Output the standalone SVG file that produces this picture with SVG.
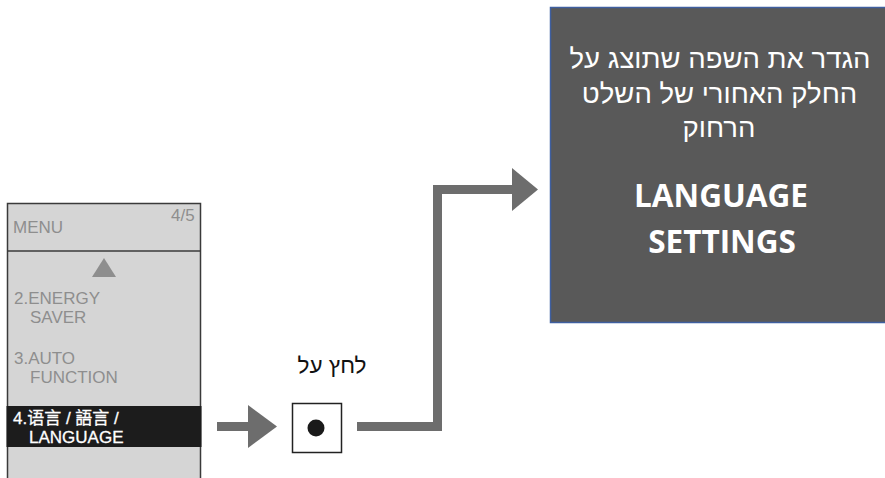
<svg xmlns="http://www.w3.org/2000/svg" width="885" height="478" viewBox="0 0 885 478">
<style>
.menu{font-family:"Liberation Sans","Noto Sans CJK SC",sans-serif;font-size:17px;fill:#8e8e8e}
.hi{fill:#ffffff;stroke:#ffffff;stroke-width:0.3}
.conn{fill:#6d6d6d}
.heb{font-family:"Liberation Sans","DejaVu Sans",sans-serif;font-size:27.5px;fill:#ffffff;text-anchor:middle}
.big{font-family:"Open Sans","Liberation Sans",sans-serif;font-weight:bold;font-size:31.5px;fill:#ffffff;text-anchor:middle}
.lbl{font-family:"Liberation Sans","DejaVu Sans",sans-serif;font-size:22.5px;fill:#111;text-anchor:middle}
</style>
<rect width="885" height="478" fill="#ffffff"/>
<g id="menu-panel">
<rect x="7.5" y="203.5" width="193" height="290" fill="#d5d5d5" stroke="#3a3a3a" stroke-width="1.5"/>
<line x1="7.5" y1="251" x2="200.5" y2="251" stroke="#3a3a3a" stroke-width="1.5"/>
<text class="menu" x="13" y="233">MENU</text>
<text class="menu" x="171" y="221">4/5</text>
<polygon points="104,258 116,277 92,277" fill="#8e8e8e"/>
<text class="menu" x="14" y="304">2.ENERGY</text>
<text class="menu" x="30" y="323">SAVER</text>
<text class="menu" x="14" y="364">3.AUTO</text>
<text class="menu" x="30" y="383">FUNCTION</text>
<rect x="6.5" y="406" width="195" height="41" fill="#1c1c1c"/>
<text class="menu hi" x="13" y="424">4.语言 / 語言 /</text>
<text class="menu hi" x="29" y="443">LANGUAGE</text>
</g>
<g id="button">
<rect x="292.5" y="403.5" width="49" height="49" fill="#ffffff" stroke="#222" stroke-width="1.5"/>
<circle cx="316" cy="428" r="8.5" fill="#1a1a1a"/>
<text class="lbl" x="332" y="373">לחץ על</text>
</g>
<g id="settings-box">
<rect x="550.5" y="7.5" width="340" height="315" fill="#595959" stroke="#3f5fa0" stroke-width="1.5"/>
<text class="heb" x="720" y="68">הגדר את השפה שתוצג על</text>
<text class="heb" x="719.5" y="103">החלק האחורי של השלט</text>
<text class="heb" x="719" y="137">הרחוק</text>
<text class="big" x="721" y="207">LANGUAGE</text>
<text class="big" x="722" y="253">SETTINGS</text>
</g>
<g id="connectors">
<rect class="conn" x="217" y="422" width="32" height="9"/>
<polygon class="conn" points="248,405 277,426.5 248,448"/>
<polygon class="conn" points="357,422 433,422 433,185 513,185 513,194 442,194 442,431 357,431"/>
<polygon class="conn" points="512,168 538,189.5 512,211"/>
</g>
</svg>
